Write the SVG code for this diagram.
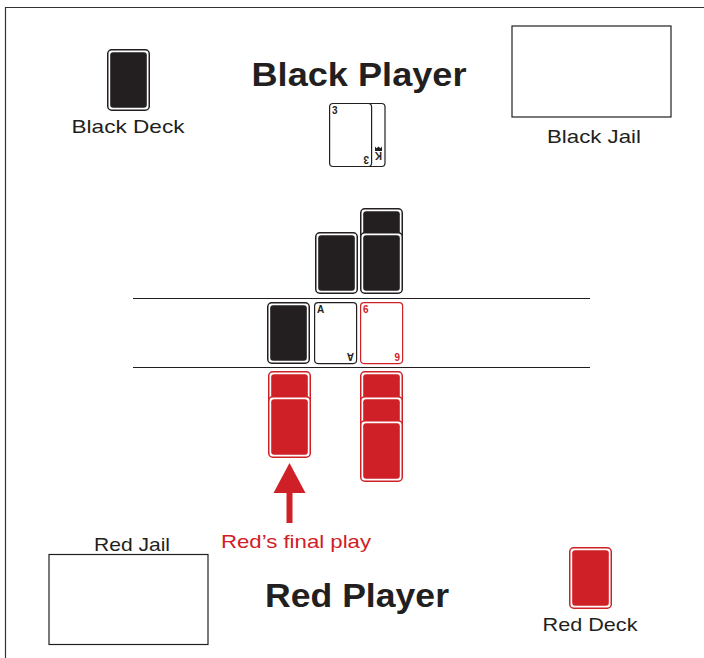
<svg xmlns="http://www.w3.org/2000/svg" xmlns:xlink="http://www.w3.org/1999/xlink" width="704" height="658" viewBox="0 0 704 658">
<style>
.lbl{font-family:"Liberation Sans",Arial,sans-serif;font-size:19px;fill:#231f20}
.ttl{font-family:"Liberation Sans",Arial,sans-serif;font-size:33px;font-weight:bold;fill:#231f20}
.idx{font-family:"Liberation Sans",Arial,sans-serif;font-size:10px;font-weight:bold}
.box{fill:#fff;stroke:#231f20;stroke-width:1.2}
.rule{stroke:#231f20;stroke-width:1.2}
</style>
<defs>
<g id="cb">
<rect x="0.75" y="0.75" width="41.5" height="60.5" rx="4" fill="#fff" stroke="#231f20" stroke-width="1.5"/>
<rect x="3.2" y="3.2" width="36.6" height="55.6" rx="3" fill="#231f20"/>
</g>
<g id="cr">
<rect x="0.75" y="0.75" width="41.5" height="60.5" rx="4" fill="#fff" stroke="#cf2027" stroke-width="1.5"/>
<rect x="3.2" y="3.2" width="36.6" height="55.6" rx="3" fill="#cf2027"/>
</g>
</defs>
<rect width="704" height="658" fill="#fff"/>
<path d="M5.5 658 V7.5 H704" fill="none" stroke="#333" stroke-width="1.2"/>

<g id="black-deck">
<use xlink:href="#cb" x="107" y="49"/>
<text class="lbl" x="128" y="133" text-anchor="middle" textLength="113" lengthAdjust="spacingAndGlyphs">Black Deck</text>
</g>
<g id="black-player">
<text class="ttl" x="359" y="86" text-anchor="middle" textLength="215" lengthAdjust="spacingAndGlyphs">Black Player</text>
</g>
<g id="black-jail">
<rect class="box" x="512" y="26" width="159" height="91"/>
<text class="lbl" x="594" y="143" text-anchor="middle" textLength="94" lengthAdjust="spacingAndGlyphs">Black Jail</text>
</g>
<g id="black-hand">
<rect x="343" y="103.5" width="42" height="63" rx="3.5" fill="#fff" stroke="#231f20" stroke-width="1.2"/>
<text class="idx" transform="translate(382 152) rotate(180)" fill="#231f20">K</text>
<path d="M375 151 h7 v-4.5 l-1.7 1.8 l-1.8 -1.8 l-1.8 1.8 l-1.7 -1.8 z" fill="#231f20"/>
<rect x="329.6" y="103.5" width="42" height="63" rx="3.5" fill="#fff" stroke="#231f20" stroke-width="1.2"/>
<text class="idx" x="332" y="114" fill="#231f20">3</text>
<text class="idx" transform="translate(369 156) rotate(180)" fill="#231f20">3</text>
</g>

<g id="black-pile-1">
<use xlink:href="#cb" x="315" y="232"/>
</g>
<g id="black-pile-2">
<use xlink:href="#cb" x="360" y="208"/>
<use xlink:href="#cb" x="360" y="232"/>
</g>

<g id="rules">
<line class="rule" x1="133" y1="298.5" x2="590" y2="298.5"/>
<line class="rule" x1="133" y1="367.5" x2="590" y2="367.5"/>
</g>

<g id="center-black">
<use xlink:href="#cb" x="267" y="302"/>
</g>
<g id="center-ace">
<rect x="314.6" y="302.6" width="42" height="61" rx="3.5" fill="#fff" stroke="#231f20" stroke-width="1.2"/>
<text class="idx" x="317" y="313" fill="#231f20">A</text>
<text class="idx" transform="translate(354 353) rotate(180)" fill="#231f20">A</text>
</g>
<g id="center-six">
<rect x="360.6" y="302.6" width="42" height="61" rx="3.5" fill="#fff" stroke="#cf2027" stroke-width="1.2"/>
<text class="idx" x="363" y="313" fill="#cf2027">6</text>
<text class="idx" transform="translate(400 353) rotate(180)" fill="#cf2027">6</text>
</g>

<g id="red-pile-1">
<use xlink:href="#cr" x="268" y="371"/>
<use xlink:href="#cr" x="268" y="396"/>
</g>
<g id="red-pile-2">
<use xlink:href="#cr" x="360" y="371"/>
<use xlink:href="#cr" x="360" y="396"/>
<use xlink:href="#cr" x="360" y="420"/>
</g>

<g id="connectors">
<rect x="286.5" y="490" width="6" height="33" fill="#cf2027"/>
<polygon points="289.5,463 305.5,493 273.5,493" fill="#cf2027"/>
</g>
<g id="note">
<text class="lbl" x="296" y="548" text-anchor="middle" style="fill:#cf2027" textLength="150" lengthAdjust="spacingAndGlyphs">Red’s final play</text>
</g>

<g id="red-jail">
<text class="lbl" x="132" y="551" text-anchor="middle" textLength="76" lengthAdjust="spacingAndGlyphs">Red Jail</text>
<rect class="box" x="49" y="554.5" width="159" height="90"/>
</g>
<g id="red-player">
<text class="ttl" x="357" y="607" text-anchor="middle" textLength="184" lengthAdjust="spacingAndGlyphs">Red Player</text>
</g>
<g id="red-deck">
<use xlink:href="#cr" x="569" y="547"/>
<text class="lbl" x="590" y="631" text-anchor="middle" textLength="95" lengthAdjust="spacingAndGlyphs">Red Deck</text>
</g>
</svg>
